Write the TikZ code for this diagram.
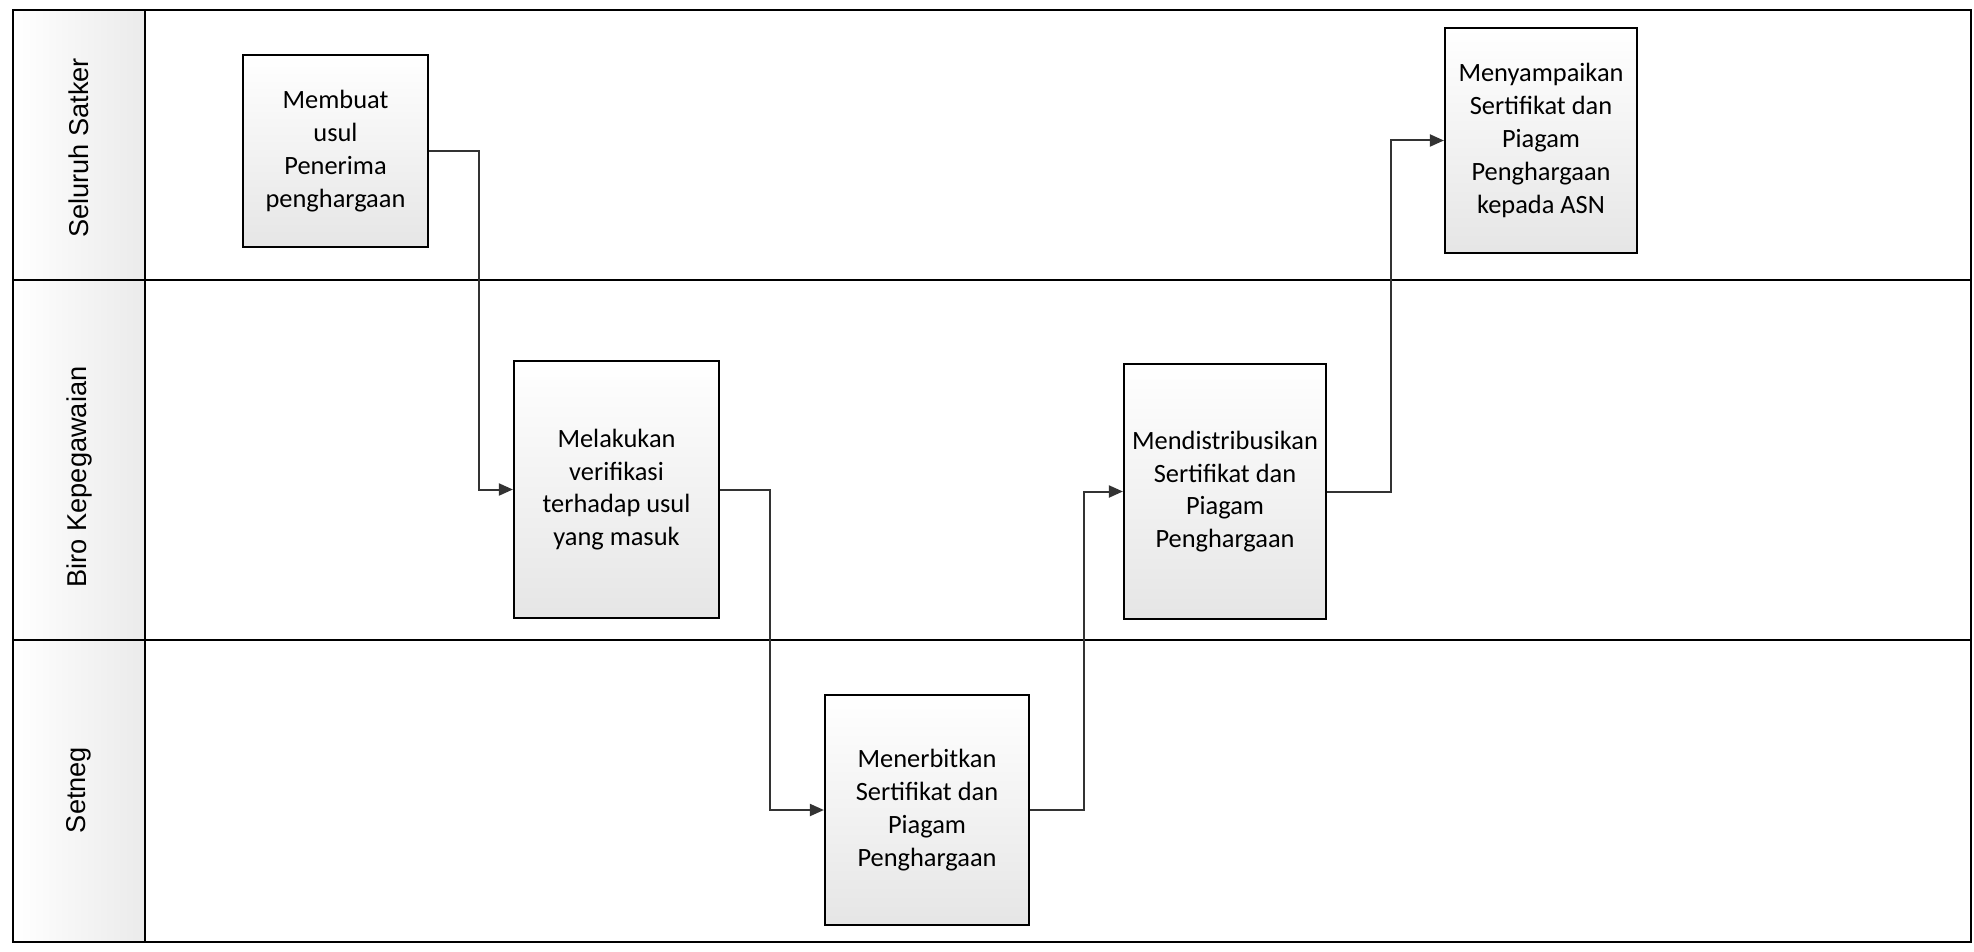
\documentclass[tikz,border=0pt]{standalone}
\usepackage{fontspec}
\setmainfont{Carlito}
\newfontfamily\lanefont{Liberation Sans}
\usetikzlibrary{arrows.meta, positioning}

\begin{document}
\begin{tikzpicture}[x=0.5pt, y=-0.5pt,
        lane/.style={draw, line width=0.9pt},
        box/.style={draw, line width=1.1pt, top color=white, bottom color=gray!20, align=center, inner sep=2pt, font=\fontsize{13.2}{16.4}\selectfont},
        head/.style={rotate=90, font=\lanefont\fontsize{13.6}{16}\selectfont},
        arr/.style={-{Triangle[length=7pt, width=6pt]}, line width=1pt, draw=black!80}
    ]
        \useasboundingbox (0,0) rectangle (1974,952);
        % lanes
        \shade[left color=white, right color=gray!16] (13,10) rectangle (145,942);
        \draw[lane] (13,10) rectangle (1971,942);
        \draw[lane] (145,10) -- (145,942);
        \draw[lane] (13,280) -- (1971,280);
        \draw[lane] (13,640) -- (1971,640);
        \node[head] (satker) at (79,148) {Seluruh Satker};
        \node[head] (biro)   at (79,477) {Biro Kepegawaian};
        \node[head] (setneg) at (79,790) {Setneg};
        % steps
        \node[box, minimum width=92.5pt, minimum height=96pt] (usul) at (335.5,151) {Membuat\\usul\\Penerima\\penghargaan};
        \node[box, minimum width=96pt, minimum height=112.5pt] (sampai) at (1541,140.5) {Menyampaikan\\Sertifikat dan\\Piagam\\Penghargaan\\kepada ASN};
        \node[box, minimum width=102.5pt, minimum height=128.5pt] (verif) at (616.5,489.5) {Melakukan\\verifikasi\\terhadap usul\\yang masuk};
        \node[box, minimum width=101pt, minimum height=127.5pt] (distrib) at (1225,491.5) {Mendistribusikan\\Sertifikat dan\\Piagam\\Penghargaan};
        \node[box, minimum width=102pt, minimum height=115pt] (terbit) at (927,810) {Menerbitkan\\Sertifikat dan\\Piagam\\Penghargaan};
        \draw[arr] (usul.east)    -- ++(50,0) |- (verif.west);
        \draw[arr] (verif.east)   -- ++(50,0) |- (terbit.west);
        \draw[arr] (terbit.east)  -- ++(54,0) |- (distrib.west);
        \draw[arr] (distrib.east) -- ++(64,0) |- (sampai.west);
    \end{tikzpicture}
\end{document}
